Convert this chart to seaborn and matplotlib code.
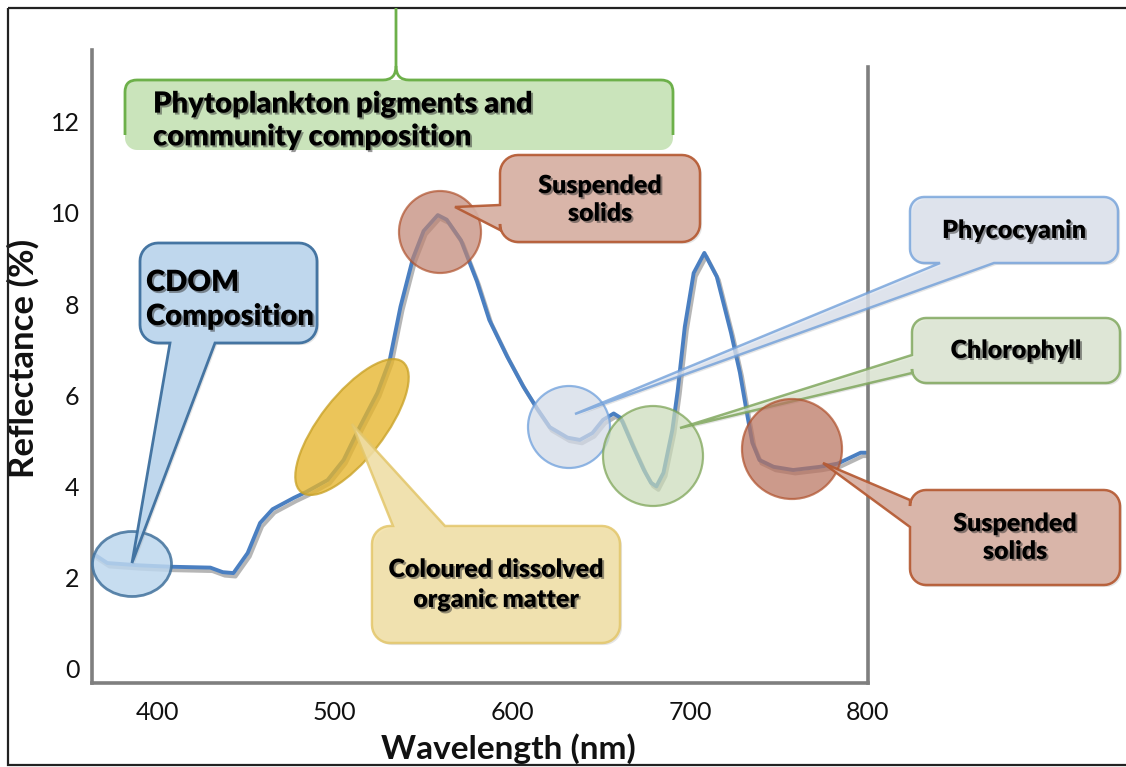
import numpy as np
import pandas as pd
import matplotlib
matplotlib.use("Agg")
import matplotlib.pyplot as plt
import matplotlib.patheffects as pe
from matplotlib.patches import PathPatch, Ellipse, Circle, Rectangle
from matplotlib.path import Path
import seaborn as sns

# ---------------- data ----------------
wavelength = [365, 372, 390, 407, 430, 437, 443, 451, 458, 465, 477, 484, 496, 505,
              514, 524, 531, 537, 544, 550, 558, 563, 571, 580, 587, 597, 606, 614,
              621, 631, 638, 645, 651, 657, 661, 668, 674, 678, 681, 685, 690, 693,
              697, 702, 708, 715, 723, 728, 732, 735, 739, 747, 758, 773, 783, 796, 799]
reflectance = [2.50, 2.32, 2.27, 2.24, 2.22, 2.12, 2.10, 2.54, 3.20, 3.50, 3.75, 3.88,
               4.14, 4.58, 5.30, 6.05, 6.78, 7.94, 9.00, 9.60, 9.95, 9.85, 9.40, 8.50,
               7.65, 6.85, 6.20, 5.70, 5.30, 5.07, 5.02, 5.17, 5.46, 5.60, 5.50, 4.87,
               4.36, 4.08, 4.00, 4.30, 5.24, 6.10, 7.50, 8.68, 9.12, 8.60, 7.37, 6.50,
               5.60, 4.96, 4.58, 4.43, 4.36, 4.43, 4.50, 4.74, 4.74]
x_ticks = [400, 500, 600, 700, 800]
x_minor = [450, 550, 650, 750]
y_ticks = [0, 2, 4, 6, 8, 10, 12]
x_label = "Wavelength (nm)"
y_label = "Reflectance (%)"
header_text = "Phytoplankton pigments and\ncommunity composition"
callout_texts = {
    "cdom": "CDOM\nComposition",
    "cdom_y": "Coloured dissolved\norganic matter",
    "ss_top": "Suspended\nsolids",
    "phyco": "Phycocyanin",
    "chl": "Chlorophyll",
    "ss_bot": "Suspended\nsolids",
}

df = pd.DataFrame({"wavelength": wavelength, "reflectance": reflectance})

# ---------------- style ----------------
sns.set_theme(style="white")
plt.rcParams["font.family"] = ["Lato", "DejaVu Sans"]

W, H = 1126, 767
fig = plt.figure(figsize=(W / 100, H / 100), dpi=100)
fig.patch.set_facecolor("white")

ax_l, ax_r, ax_t, ax_b = 92, 868, 50, 683
ax = fig.add_axes([ax_l / W, (H - ax_b) / H, (ax_r - ax_l) / W, (ax_b - ax_t) / H])
ax.set_facecolor("white")

sns.lineplot(data=df, x="wavelength", y="reflectance", ax=ax, color="#4a7fc1",
             linewidth=2.8, estimator=None)
ax.lines[0].set_path_effects([
    pe.SimpleLineShadow(offset=(1.5, -2.5), shadow_color="#6f6f6f", alpha=0.5),
    pe.Normal()])

ax.set_xlim(363.4, 800.1)
ax.set_ylim(-0.31, 13.57)
ax.set_xticks(x_ticks)
ax.set_xticks(x_minor, minor=True)
ax.set_yticks(y_ticks)
ax.tick_params(axis="x", which="both", length=5, width=1, color="#c0c0c0",
               direction="out", pad=8, labelsize=18, labelcolor="#111111")
ax.tick_params(axis="y", length=0, pad=9, labelsize=18, labelcolor="#111111")

for s in ["left", "bottom", "right"]:
    ax.spines[s].set_color("#7f7f7f")
    ax.spines[s].set_linewidth(2.6)
ax.spines["top"].set_visible(False)
ax.spines["right"].set_bounds(-0.31, 13.2)

ax.set_xlabel(x_label, fontsize=24, fontweight="bold", color="#111111")
ax.set_ylabel(y_label, fontsize=25, fontweight="bold", color="#111111")
ax.xaxis.set_label_coords((508 - ax_l) / (ax_r - ax_l), (ax_b - 749) / (ax_b - ax_t))
ax.xaxis.label.set_va("center")
ax.yaxis.set_label_coords((23 - ax_l) / (ax_r - ax_l), (ax_b - 358) / (ax_b - ax_t))
ax.yaxis.label.set_va("center")

# ---------------- overlay for annotations (pixel coords) ----------------
ov = fig.add_axes([0, 0, 1, 1], zorder=5)
ov.set_xlim(0, W)
ov.set_ylim(H, 0)
ov.axis("off")

text_fx = [pe.withSimplePatchShadow(offset=(1.4, -1.4), shadow_rgbFace="#333333", alpha=0.5)]


def callout_path(x0, y0, x1, y1, r, side=None, b0=None, b1=None, tip=None, n=10):
    pts = []

    def arc(cx, cy, a0, a1):
        t = np.radians(np.linspace(a0, a1, n))
        return list(zip(cx + r * np.cos(t), cy + r * np.sin(t)))

    pts.append((x0 + r, y0))
    if side == "top":
        pts += [(b0, y0), tip, (b1, y0)]
    pts.append((x1 - r, y0))
    pts += arc(x1 - r, y0 + r, -90, 0)
    pts.append((x1, y1 - r))
    pts += arc(x1 - r, y1 - r, 0, 90)
    if side == "bottom":
        pts += [(b1, y1), tip, (b0, y1)]
    pts.append((x0 + r, y1))
    pts += arc(x0 + r, y1 - r, 90, 180)
    if side == "left":
        pts += [(x0, b1), tip, (x0, b0)]
    pts.append((x0, y0 + r))
    pts += arc(x0 + r, y0 + r, 180, 270)
    pts.append(pts[0])
    codes = [Path.MOVETO] + [Path.LINETO] * (len(pts) - 2) + [Path.CLOSEPOLY]
    return Path(pts, codes)


def callout(box, r, side, b0, b1, tip, fc, ec, alpha=0.9, lw=1.8):
    p = callout_path(*box, r, side, b0, b1, tip)
    ov.add_patch(PathPatch(p, facecolor=fc, edgecolor=ec, lw=lw, alpha=alpha,
                           path_effects=[pe.withSimplePatchShadow(offset=(1.5, -1.5),
                                                                  shadow_rgbFace="#999999",
                                                                  alpha=0.25)]))


def label(x, y, s, size=18, ha="center", ls=1.3):
    ov.text(x, y, s, ha=ha, va="center", fontsize=size, fontweight="heavy",
            color="#000000", linespacing=ls, path_effects=text_fx)


# frame around the figure
ov.add_patch(Rectangle((8, 8), W, H - 10, fill=False, edgecolor="#222222", lw=1.6))

# header brace (green)
ov.add_patch(PathPatch(callout_path(125, 80, 673, 150, 12), facecolor="#c8e3b8",
                       edgecolor="none", alpha=0.95))
brace_l = Path([(125, 135), (125, 92), (125, 80), (137, 80), (383, 80), (396, 80),
                (396, 66), (396, 8)],
               [Path.MOVETO, Path.LINETO, Path.CURVE3, Path.CURVE3, Path.LINETO,
                Path.CURVE3, Path.CURVE3, Path.LINETO])
brace_r = Path([(396, 66), (396, 80), (409, 80), (661, 80), (673, 80), (673, 92), (673, 135)],
               [Path.MOVETO, Path.CURVE3, Path.CURVE3, Path.LINETO, Path.CURVE3,
                Path.CURVE3, Path.LINETO])
for bp in (brace_l, brace_r):
    ov.add_patch(PathPatch(bp, facecolor="none", edgecolor="#6db04a", lw=2.0))
label(153, 121, header_text, size=21, ha="left", ls=1.32)

# CDOM
ov.add_patch(Ellipse((132, 564), 79, 65, facecolor="#bdd7ee", edgecolor="#41719c",
                     lw=2.0, alpha=0.85))
callout((140, 243, 317, 343), 18, "bottom", 170, 215, (132, 563), "#bdd7ee", "#3d6f9e",
        alpha=0.95, lw=2.0)
label(146, 300, callout_texts["cdom"], size=21, ha="left", ls=1.38)

# Coloured dissolved organic matter
ov.add_patch(Ellipse((352, 427), 165, 64, angle=-52, facecolor="#e6b52c",
                     edgecolor="#c9a227", lw=1.6, alpha=0.78))
callout((372, 526, 620, 643), 18, "top", 393, 445, (352, 424), "#f3e1a6", "#e3c66a",
        alpha=0.85)
label(496, 585, callout_texts["cdom_y"], size=18, ls=1.45)

# Suspended solids (top)
ov.add_patch(Circle((440, 232), 41, facecolor="#bf8472", edgecolor="#b0522d",
                    lw=1.6, alpha=0.7))
callout((500, 155, 700, 242), 18, "left", 205, 230, (455, 207), "#d8b0a3", "#b4572f",
        alpha=0.9)
label(600, 200, callout_texts["ss_top"], size=18, ls=1.32)

# Phycocyanin
ov.add_patch(Circle((569, 427), 41, facecolor="#d3dbe8", edgecolor="#6d9fdc",
                    lw=1.6, alpha=0.75))
callout((910, 197, 1118, 263), 14, "bottom", 940, 994, (575, 414), "#dce3ef", "#6a9bd8",
        alpha=0.75)
label(1014, 231, callout_texts["phyco"], size=18)

# Chlorophyll
ov.add_patch(Circle((653, 456), 50, facecolor="#c9dbb8", edgecolor="#77a04f",
                    lw=1.6, alpha=0.7))
callout((912, 318, 1120, 383), 14, "left", 355, 373, (680, 428), "#dde7d3", "#7aa356",
        alpha=0.8)
label(1016, 351, callout_texts["chl"], size=18)

# Suspended solids (bottom)
ov.add_patch(Circle((792, 449), 50, facecolor="#b9735f", edgecolor="#b0522d",
                    lw=1.6, alpha=0.72))
callout((910, 490, 1120, 585), 16, "left", 500, 527, (823, 463), "#d8b0a3", "#b4572f",
        alpha=0.9)
label(1015, 538, callout_texts["ss_bot"], size=18, ls=1.32)

fig.savefig("out.png", dpi=100, facecolor="white")
